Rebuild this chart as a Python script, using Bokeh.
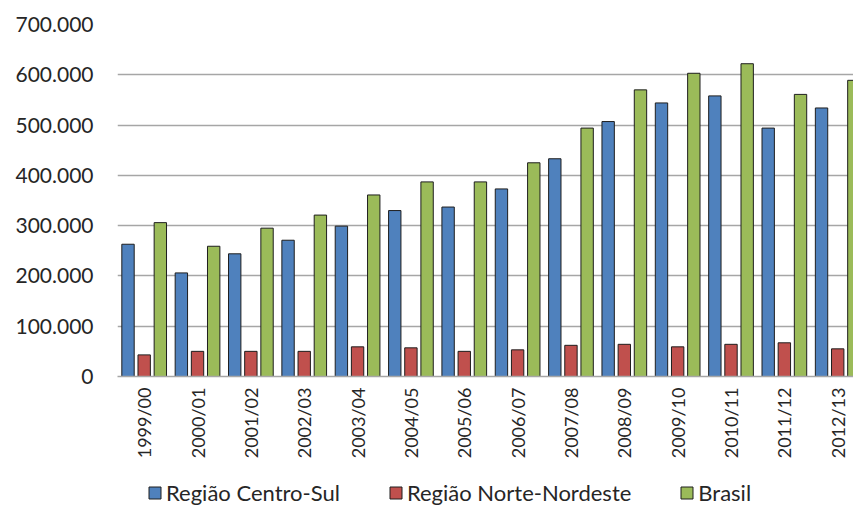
from bokeh.plotting import figure
from bokeh.layouts import column
from bokeh.models import ColumnDataSource, Range1d, FixedTicker, Legend, LegendItem
from bokeh.transform import dodge
from bokeh.embed import file_html
from bokeh.resources import INLINE

# Safras (crop years) and production per region, in thousands
safras = ["1999/00", "2000/01", "2001/02", "2002/03", "2003/04", "2004/05", "2005/06",
          "2006/07", "2007/08", "2008/09", "2009/10", "2010/11", "2011/12", "2012/13"]
centro_sul = [263, 206, 244, 271, 299, 330, 337, 373, 433, 507, 544, 558, 494, 534]
norte_nordeste = [43, 50, 50, 50, 59, 57, 50, 53, 62, 64, 59, 64, 67, 55]
brasil = [306, 259, 295, 321, 361, 387, 387, 425, 494, 570, 603, 622, 561, 589]

series_names = ["Região Centro-Sul", "Região Norte-Nordeste", "Brasil"]
series_colors = ["#4F81BD", "#C0504D", "#9BBB59"]

y_ticks = [0, 100000, 200000, 300000, 400000, 500000, 600000, 700000]
y_tick_labels = ["0", "100.000", "200.000", "300.000", "400.000", "500.000", "600.000", "700.000"]

FONT = "Lato"
TEXT_COLOR = "#262626"
BAR_LINE = "#1e1e1e"

idx = list(range(len(safras)))
src = ColumnDataSource(dict(
    x=idx,
    cs=[v * 1000 for v in centro_sul],
    nn=[v * 1000 for v in norte_nordeste],
    br=[v * 1000 for v in brasil],
))

p = figure(frame_width=736, frame_height=352, output_backend="svg", toolbar_location=None,
           x_range=Range1d(-0.5, 13.296), y_range=Range1d(0, 700000),
           min_border_left=117, min_border_right=0, min_border_top=24,
           min_border_bottom=104)
p.outline_line_color = None
p.background_fill_color = "white"
p.border_fill_color = "white"

bar_w = 0.232
offsets = [-0.303, 0.0, 0.303]
fields = ["cs", "nn", "br"]
for off, fld, col in zip(offsets, fields, series_colors):
    p.vbar(x=dodge("x", off), top=fld, width=bar_w, source=src,
           fill_color=col, line_color=BAR_LINE, line_width=1)

# y axis: gridlines only, no axis line
p.yaxis.ticker = FixedTicker(ticks=y_ticks)
p.yaxis.major_label_overrides = {t: l for t, l in zip(y_ticks, y_tick_labels)}
p.yaxis.axis_line_color = None
p.yaxis.major_tick_line_color = None
p.yaxis.major_tick_out = 0
p.yaxis.major_tick_in = 0
p.yaxis.minor_tick_line_color = None
p.yaxis.major_label_standoff = 24
p.yaxis.major_label_text_font = FONT
p.yaxis.major_label_text_font_size = "21px"
p.yaxis.major_label_text_color = TEXT_COLOR
p.ygrid.grid_line_color = "#a6a6a6"
p.ygrid.grid_line_width = 1.3
p.xgrid.grid_line_color = None

# x axis: rotated safra labels
p.xaxis.ticker = FixedTicker(ticks=idx)
p.xaxis.major_label_overrides = {i: s for i, s in zip(idx, safras)}
p.xaxis.major_label_orientation = 1.5708
p.xaxis.axis_line_color = "#a6a6a6"
p.xaxis.axis_line_width = 1.3
p.xaxis.major_tick_line_color = None
p.xaxis.major_tick_out = 0
p.xaxis.major_tick_in = 0
p.xaxis.minor_tick_line_color = None
p.xaxis.major_label_standoff = 11
p.xaxis.major_label_text_font = FONT
p.xaxis.major_label_text_font_size = "18px"
p.xaxis.major_label_text_color = TEXT_COLOR

# legend strip under the chart; each key renderer sits outside the strip's range
leg = figure(frame_width=853, frame_height=27, output_backend="svg", toolbar_location=None,
             x_range=Range1d(0, 1), y_range=Range1d(0, 1),
             x_axis_type=None, y_axis_type=None,
             min_border_left=0, min_border_right=0, min_border_top=0, min_border_bottom=0)
leg.outline_line_color = None
leg.xgrid.visible = False
leg.ygrid.visible = False
keys = []
for col in series_colors:
    keys.append(leg.vbar(x=[-5], top=[0], width=0.1, fill_color=col,
                         line_color=BAR_LINE, line_width=1))

legend = Legend(
    items=[LegendItem(label=n, renderers=[r], index=0) for n, r in zip(series_names, keys)],
    orientation="horizontal", location=(147, 1),
    label_text_font=FONT, label_text_font_size="22px", label_text_color=TEXT_COLOR,
    glyph_width=15, glyph_height=15, spacing=48, label_standoff=4,
    background_fill_alpha=0, border_line_color=None, padding=0, margin=0,
)
leg.add_layout(legend, "center")

layout = column(p, leg, spacing=0)
open("out.html", "w").write(file_html(layout, INLINE))
